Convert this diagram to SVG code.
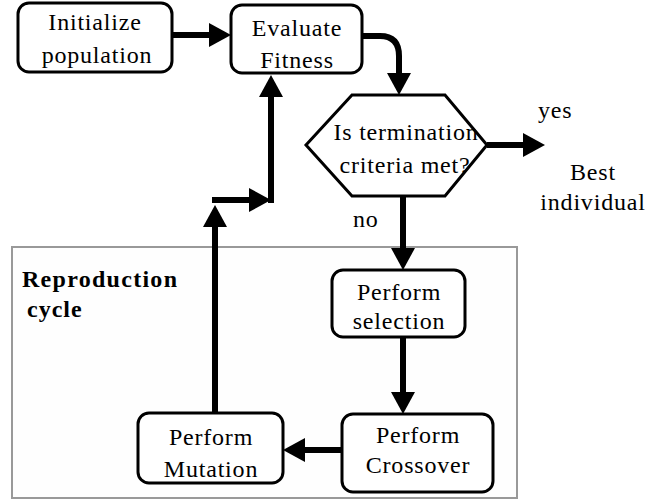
<svg xmlns="http://www.w3.org/2000/svg" width="649" height="501" viewBox="0 0 649 501">
<defs>
<path id="ah" d="M0,-12 L22,0 L0,12 z"/>
<style>
.box{fill:#fff;stroke:#000;stroke-width:3}
text{font-family:"Liberation Serif","DejaVu Serif","Times New Roman",serif;fill:#000}
.t{font-size:24px;letter-spacing:0.8px;text-anchor:middle}
.tl{font-size:24px;letter-spacing:0.8px}
.b{font-size:24px;font-weight:bold}
.c{fill:none;stroke:#000;stroke-width:6}
</style>
</defs>
<rect width="649" height="501" fill="#fff"/>
<g id="reproduction-cycle">
<rect x="12" y="247" width="505" height="251" fill="#fefefe" stroke="#999" stroke-width="2"/>
<text class="b" x="22" y="287" textLength="155" lengthAdjust="spacing">Reproduction</text>
<text class="b" x="27" y="317" letter-spacing="1">cycle</text>
</g>
<g id="initialize">
<rect class="box" x="18" y="3" width="154" height="69" rx="11"/>
<text class="t" x="95" y="30">Initialize</text>
<text class="t" x="97" y="63">population</text>
</g>
<g id="evaluate">
<rect class="box" x="231" y="5" width="131" height="68" rx="11"/>
<text class="t" x="297" y="36">Evaluate</text>
<text class="t" x="297" y="68">Fitness</text>
</g>
<g id="termination">
<polygon class="box" points="352,95 445,95 487,145 445,196 352,196 306,145"/>
<text class="t" x="406" y="140">Is termination</text>
<text class="t" x="405" y="173">criteria met?</text>
</g>
<g id="best">
<text class="t" x="593" y="180">Best</text>
<text class="t" x="593" y="210">individual</text>
</g>
<g id="selection">
<rect class="box" x="332" y="270" width="133" height="67" rx="11"/>
<text class="t" x="399" y="300">Perform</text>
<text class="t" x="399" y="329">selection</text>
</g>
<g id="crossover">
<rect class="box" x="342" y="414" width="151" height="78" rx="11"/>
<text class="t" x="418" y="443">Perform</text>
<text class="t" x="418" y="473">Crossover</text>
</g>
<g id="mutation">
<rect class="box" x="138" y="413" width="145" height="70" rx="11"/>
<text class="t" x="211" y="445">Perform</text>
<text class="t" x="211" y="477">Mutation</text>
</g>
<g id="connectors" fill="#000">
<path class="c" d="M172,35 L210,35"/>
<use href="#ah" transform="translate(209,35)"/>
<path class="c" d="M362,36 L380,36 Q399,36 399,56 L399,75"/>
<use href="#ah" transform="translate(399,73) rotate(90)"/>
<path class="c" d="M487,145 L524,145"/>
<use href="#ah" transform="translate(523,145)"/>
<path class="c" d="M403,196 L403,249"/>
<use href="#ah" transform="translate(403,248) rotate(90)"/>
<path class="c" d="M403,337 L403,393"/>
<use href="#ah" transform="translate(403,392) rotate(90)"/>
<path class="c" d="M342,450 L304,450"/>
<use href="#ah" transform="translate(305,450) rotate(180)"/>
<path class="c" d="M215,413 L215,226"/>
<use href="#ah" transform="translate(215,227) rotate(-90)"/>
<path class="c" d="M212,200 L250,200"/>
<use href="#ah" transform="translate(249,200)"/>
<path class="c" d="M271,203 L271,96"/>
<use href="#ah" transform="translate(271,97) rotate(-90)"/>
<text class="tl" x="538" y="118">yes</text>
<text class="tl" x="353" y="227">no</text>
</g>
</svg>
